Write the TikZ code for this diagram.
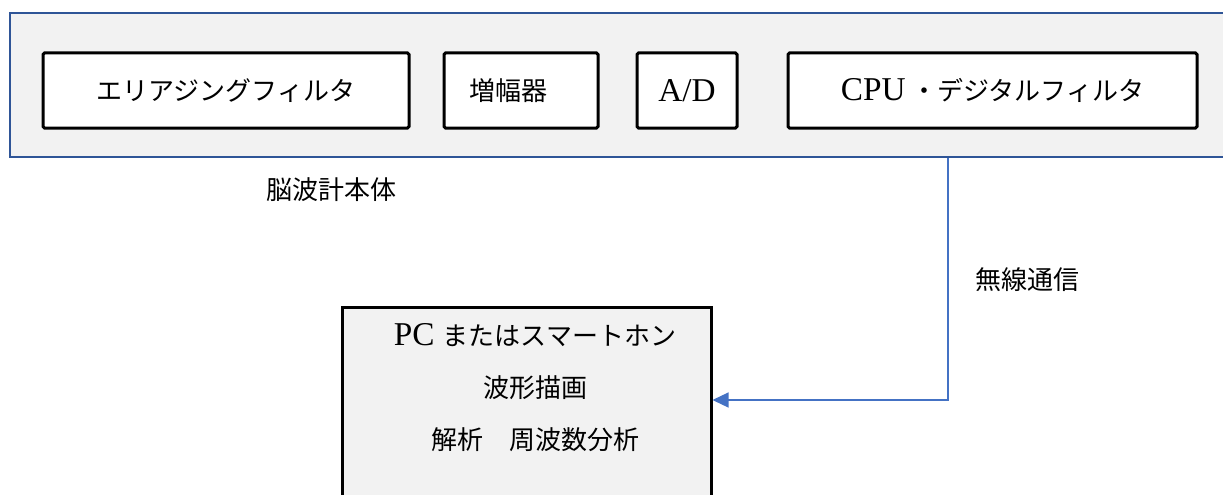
\documentclass[tikz,border=0pt]{standalone}
\usepackage{fontspec}
\setmainfont{Liberation Serif}[Scale=1.28]
\newfontfamily\jp{Noto Sans CJK JP}
\usetikzlibrary{arrows.meta}
\definecolor{panel}{HTML}{F2F2F2}
\definecolor{frameblue}{HTML}{2F5597}
\definecolor{linkblue}{HTML}{4472C4}
\tikzset{
  txt/.style={font=\fontsize{26}{30}\selectfont, inner sep=0pt},
  stage/.style={draw=black, line width=3pt, fill=white, rounded corners=1.5pt, minimum height=75pt, txt},
  link/.style={draw=linkblue, line width=1.3pt, -{Triangle[length=16pt,width=15pt]}},
}
\begin{document}
\begin{tikzpicture}[x=1pt,y=-1pt]
\useasboundingbox (0,0) rectangle (1223,495);
% main body
\node[draw=frameblue, line width=2pt, fill=panel, minimum width=1228pt, minimum height=144pt, inner sep=0pt] (body) at (624,85) {};
\node[stage, minimum width=366pt] (aaf) at (226,90.5) {\jp エリアジングフィルタ};
\node[stage, minimum width=154pt] (amp) at (521,90.5) {\hspace*{-26pt}\jp 増幅器};
\node[stage, minimum width=100pt] (ad) at (687,90.5) {A/D};
\node[stage, minimum width=409pt] (cpu) at (992.5,90.5) {CPU\,{\jp ・デジタルフィルタ}};
\node[txt] (bodylabel) at (331,190) {\jp 脳波計本体};
% PC box
\node[draw=black, line width=3pt, fill=panel, minimum width=369pt, minimum height=205pt, inner sep=0pt] (pc) at (526.5,409.5) {};
\node[txt, align=center, font=\fontsize{26}{52}\selectfont] (pctext) at (535,388) {PC {\jp またはスマートホン}\\{\jp 波形描画}\\{\jp 解析　周波数分析}};
% wireless link
\coordinate (bend) at (948,400);
\draw[link] (bend |- body.south) -- (bend) -- (bend -| pc.east);
\node[txt] (wl) at (1027,280) {\jp 無線通信};
\end{tikzpicture}
\end{document}
